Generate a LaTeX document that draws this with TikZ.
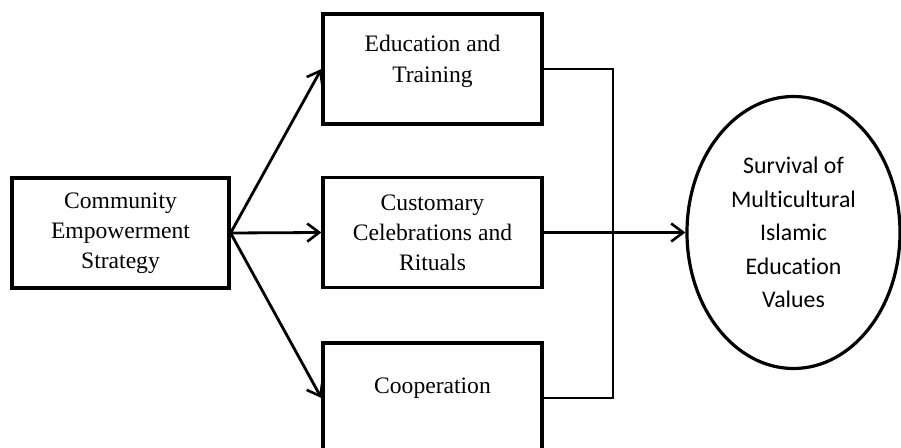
\documentclass[tikz,border=0pt]{standalone}
\usepackage{fontspec}
\setmainfont{Liberation Serif}
\newfontfamily\calibrifont[Ligatures=NoCommon]{Carlito}
\usetikzlibrary{arrows.meta,shapes.geometric}
\begin{document}
\begin{tikzpicture}[x=0.5pt,y=-0.5pt]

      \tikzset{box/.style={draw, line width=1.6pt, rectangle, align=center, minimum width=109.5pt, minimum height=55pt, inner sep=0pt, font=\fontsize{11.8}{15}\selectfont},
               goal/.style={draw, line width=1.6pt, ellipse, align=center, minimum width=106.5pt, minimum height=136pt, inner sep=0pt, font=\calibrifont\fontsize{11.9}{16.75}\selectfont},
               arrow/.style={line width=1.4pt, -{Straight Barb[length=6pt,width=9pt,line width=1.3pt]}},
               link/.style={line width=1.4pt}}
      \useasboundingbox (0,0) rectangle (901,448);
%% Boxes
      	\node[box, minimum width=108.5pt] (strat) at (120.5,233) {Community\\Empowerment\\Strategy};
      	\node[box, text depth=10pt] (edu) at (432.5,69) {Education and\\[0.4pt]Training};
      	\node[box] (cust) at (432.5,232.5) {Customary\\Celebrations and\\Rituals};
      	\node[box, text depth=12pt] (coop) at (432.5,398) {Cooperation};
      	\node[goal] (surv) at (793.5,232.5) {Survival of\\Multicultural\\Islamic\\Education\\Values};
%% Junction
      	\coordinate (bus) at (613,232.5);
%Edges
		\path (strat.east) edge[arrow] (edu.west);
		\path (strat.east) edge[arrow] (cust.west);
		\path (strat.east) edge[arrow] (coop.west);
		\draw[link] (edu.east) -| (bus) |- (coop.east);
		\path (cust.east) edge[arrow] (surv.west);

	\end{tikzpicture}
\end{document}
